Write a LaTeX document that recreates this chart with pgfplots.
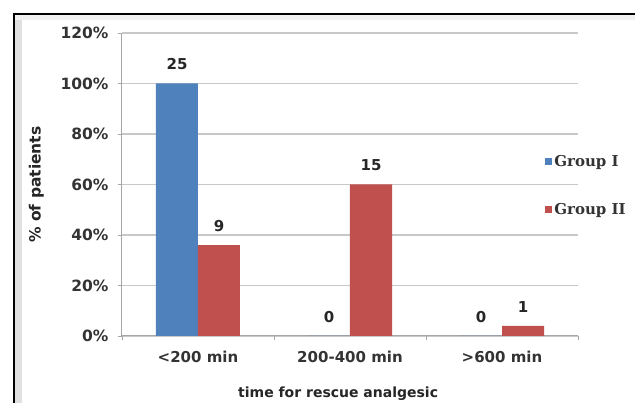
\documentclass[border=0pt]{standalone}
\usepackage{fontspec}
\setmainfont{DejaVu Sans}
\newfontfamily\legfont{DejaVu Serif}
\usepackage{pgfplots}
\usepackage{pgfplotstable}
\pgfplotsset{compat=1.18}
\definecolor{gblue}{HTML}{4F81BD}
\definecolor{gred}{HTML}{C0504D}
\definecolor{gridc}{HTML}{C8C8C8}
\definecolor{axc}{HTML}{A6A6A6}
\pgfplotstableread{
x g1 g2 l1 l2
0 100 36 25 9
1 0 60 0 15
2 0 4 0 1
}\datatable
\begin{document}
\begin{tikzpicture}[x=1pt,y=1pt]
\useasboundingbox (0,0) rectangle (635,403);
\fill[white] (0,0) rectangle (635,403);
\fill[black!12] (15,0) rectangle (22,388);
\fill[black!6] (15,383) rectangle (635,388);
\draw[line width=2pt] (14,0) -- (14,389) -- (635,389);
\begin{axis}[
  at={(122pt,67pt)}, anchor=south west,
  scale only axis, width=456pt, height=303pt,
  xmin=-0.5, xmax=2.5, ymin=0, ymax=120,
  ybar=0pt, bar width=42pt,
  axis x line=bottom, axis y line=left,
  axis line style={-, draw=axc, line width=1pt},
  tick align=outside,
  major tick length=4pt,
  tick style={draw=axc, line width=0.8pt},
  ytick={0,20,...,120},
  /pgf/number format/assume math mode=true,
  yticklabel={\pgfmathprintnumber{\tick}\%},
  yticklabel style={anchor=east, xshift=-6pt, font=\bfseries\fontsize{15.5}{17}\selectfont},
  ymajorgrids,
  grid style={draw=gridc, line width=1.2pt},
  xtick={-0.5,0.5,1.5,2.5},
  xticklabels={},
  extra x ticks={0,1,2},
  extra x tick labels={<200 min,200-400 min,>600 min},
  extra x tick style={major tick length=0pt, grid=none,
    xticklabel style={anchor=center, yshift=-21pt, font=\bfseries\fontsize{15}{17}\selectfont}},
  tick label style={text=black!80},
  label style={text=black!85},
  xlabel={time for rescue analgesic},
  xlabel style={at={(axis description cs:0.474,-0.19)}, anchor=center, font=\bfseries\fontsize{14}{16}\selectfont},
  ylabel={\% of patients},
  ylabel style={at={(axis description cs:-0.188,0.5)}, anchor=center, font=\bfseries\fontsize{15.5}{17}\selectfont},
  nodes near coords={\pgfplotspointmeta},
  point meta=explicit symbolic,
  every node near coord/.append style={font=\bfseries\fontsize{15}{17}\selectfont, text=black!85, anchor=center, yshift=19pt},
  legend style={at={(axis description cs:0.928,0.605)}, anchor=north west,
    draw=none, fill=none, inner sep=0pt, row sep=32pt,
    font=\legfont\bfseries\fontsize{15}{17}\selectfont, text=black!80,
    nodes={inner sep=2pt}},
  legend cell align=left,
  legend image code/.code={\fill[#1] (0pt,-3.5pt) rectangle (7pt,3.5pt);},
  clip=false,
]
\addplot[fill=gblue, draw=none] table[x=x, y=g1, meta=l1] {\datatable};
\addplot[fill=gred, draw=none] table[x=x, y=g2, meta=l2] {\datatable};
\legend{Group I, Group II}
\end{axis}
\end{tikzpicture}
\end{document}
